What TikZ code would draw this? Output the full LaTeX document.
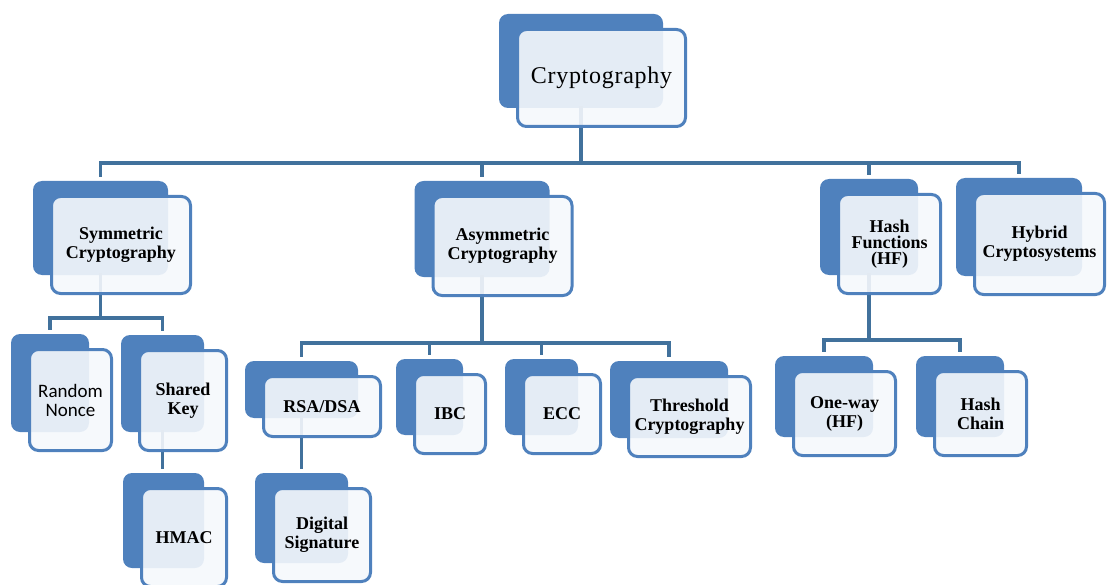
\documentclass[tikz,border=0pt]{standalone}
\usepackage{fontspec}
\setmainfont{Liberation Serif}
\newfontfamily\nonceface{Carlito}
\usepackage{tikz}
\usetikzlibrary{fit}
\pgfdeclarelayer{back}
\pgfsetlayers{back,main}
\definecolor{boxblue}{HTML}{4F81BD}
\definecolor{linkblue}{HTML}{41719C}
\definecolor{paneface}{HTML}{F5F8FC}

\begin{document}
\begin{tikzpicture}[
  x=1pt, y=-1pt,
  pane/.style={rectangle, rounded corners=9pt, draw=boxblue, line width=3pt, fill=paneface, fill opacity=0.9, text opacity=1, align=center, inner sep=2pt, font=\bfseries\fontsize{18}{19}\selectfont},
  root/.style={font=\mdseries\fontsize{24}{26}\selectfont\addfontfeature{LetterSpace=3}},
  nonce/.style={font=\nonceface\fontsize{19}{19}\selectfont},
  backing/.style={rectangle, rounded corners=9pt, fill=boxblue, inner sep=0pt, outer sep=0pt, fit={([shift={(-17pt,14pt)}]#1.north west) ([shift={(-24pt,20pt)}]#1.south east)}},
  link/.style={draw=linkblue, line width=3.5pt, line cap=rect},
  drop/.style={link, shorten >=6pt}
]
\useasboundingbox (0,0) rectangle (1107,585);
% front panes
\node[pane, root, minimum width=168pt, minimum height=97pt] (crypto) at (601.5,78) {Cryptography};
\node[pane, minimum width=139pt, minimum height=97pt] (sym) at (121,245) {Symmetric\\Cryptography};
\node[pane, minimum width=139pt, minimum height=99pt] (asym) at (502.5,246) {Asymmetric\\Cryptography};
\node[pane, minimum width=102pt, minimum height=99pt] (hash) at (889.5,244) {Hash\\[-3pt]Functions\\[-3pt](HF)};
\node[pane, minimum width=130pt, minimum height=101pt] (hybrid) at (1039.5,244) {Hybrid\\Cryptosystems};
\node[pane, nonce, minimum width=82pt, minimum height=101pt] (random) at (70.5,400) {Random\\Nonce};
\node[pane, minimum width=87pt, minimum height=100pt] (shared) at (183,400.5) {Shared\\Key};
\node[pane, minimum width=85pt, minimum height=98pt] (hmac) at (184,537.5) {HMAC};
\node[pane, minimum width=117pt, minimum height=60pt] (rsa) at (322,406.5) {RSA/DSA};
\node[pane, minimum width=97pt, minimum height=93pt] (digsig) at (322,535) {Digital\\Signature};
\node[pane, minimum width=71pt, minimum height=79pt] (ibc) at (450,414) {IBC};
\node[pane, minimum width=77pt, minimum height=79pt] (ecc) at (562,414) {ECC};
\node[pane, minimum width=122pt, minimum height=80pt] (thresh) at (689.5,416.5) {Threshold\\Cryptography};
\node[pane, minimum width=102pt, minimum height=84pt] (oneway) at (844.5,413.5) {One-way\\(HF)};
\node[pane, minimum width=92pt, minimum height=84pt] (chain) at (980.5,413.5) {Hash\\Chain};

% bus heights
\coordinate (bus1) at (0,163);
\coordinate (bus2) at (0,318);
\coordinate (bus3) at (0,343);
\coordinate (bus4) at (0,340);

\begin{pgfonlayer}{back}
% blue backings
\foreach \n in {crypto,sym,asym,hash,hybrid,random,shared,hmac,rsa,digsig,ibc,ecc,thresh,oneway,chain}
  \node[backing=\n] (\n-b) {};
% connectors
\draw[link] (crypto-b.south) -- (crypto-b.south |- bus1);
\draw[link] (sym-b.north |- bus1) -- (hybrid-b.north |- bus1);
\foreach \c in {sym,asym,hash,hybrid}
  \draw[drop] (\c-b.north |- bus1) -- (\c-b.north);
\draw[link] (sym-b.south) -- (sym-b.south |- bus2);
\draw[link] (random-b.north |- bus2) -- (shared-b.north |- bus2);
\foreach \c in {random,shared}
  \draw[drop] (\c-b.north |- bus2) -- (\c-b.north);
\draw[drop] (shared-b.south) -- (shared-b.south |- hmac-b.north);
\draw[link] (asym-b.south) -- (asym-b.south |- bus3);
\draw[link] (rsa-b.north |- bus3) -- (thresh-b.north |- bus3);
\foreach \c in {rsa,ibc,ecc,thresh}
  \draw[drop] (\c-b.north |- bus3) -- (\c-b.north);
\draw[drop] (rsa-b.south) -- (digsig-b.north);
\draw[link] (hash-b.south) -- (hash-b.south |- bus4);
\draw[link] (oneway-b.north |- bus4) -- (chain-b.north |- bus4);
\foreach \c in {oneway,chain}
  \draw[drop] (\c-b.north |- bus4) -- (\c-b.north);
\end{pgfonlayer}
\end{tikzpicture}
\end{document}
